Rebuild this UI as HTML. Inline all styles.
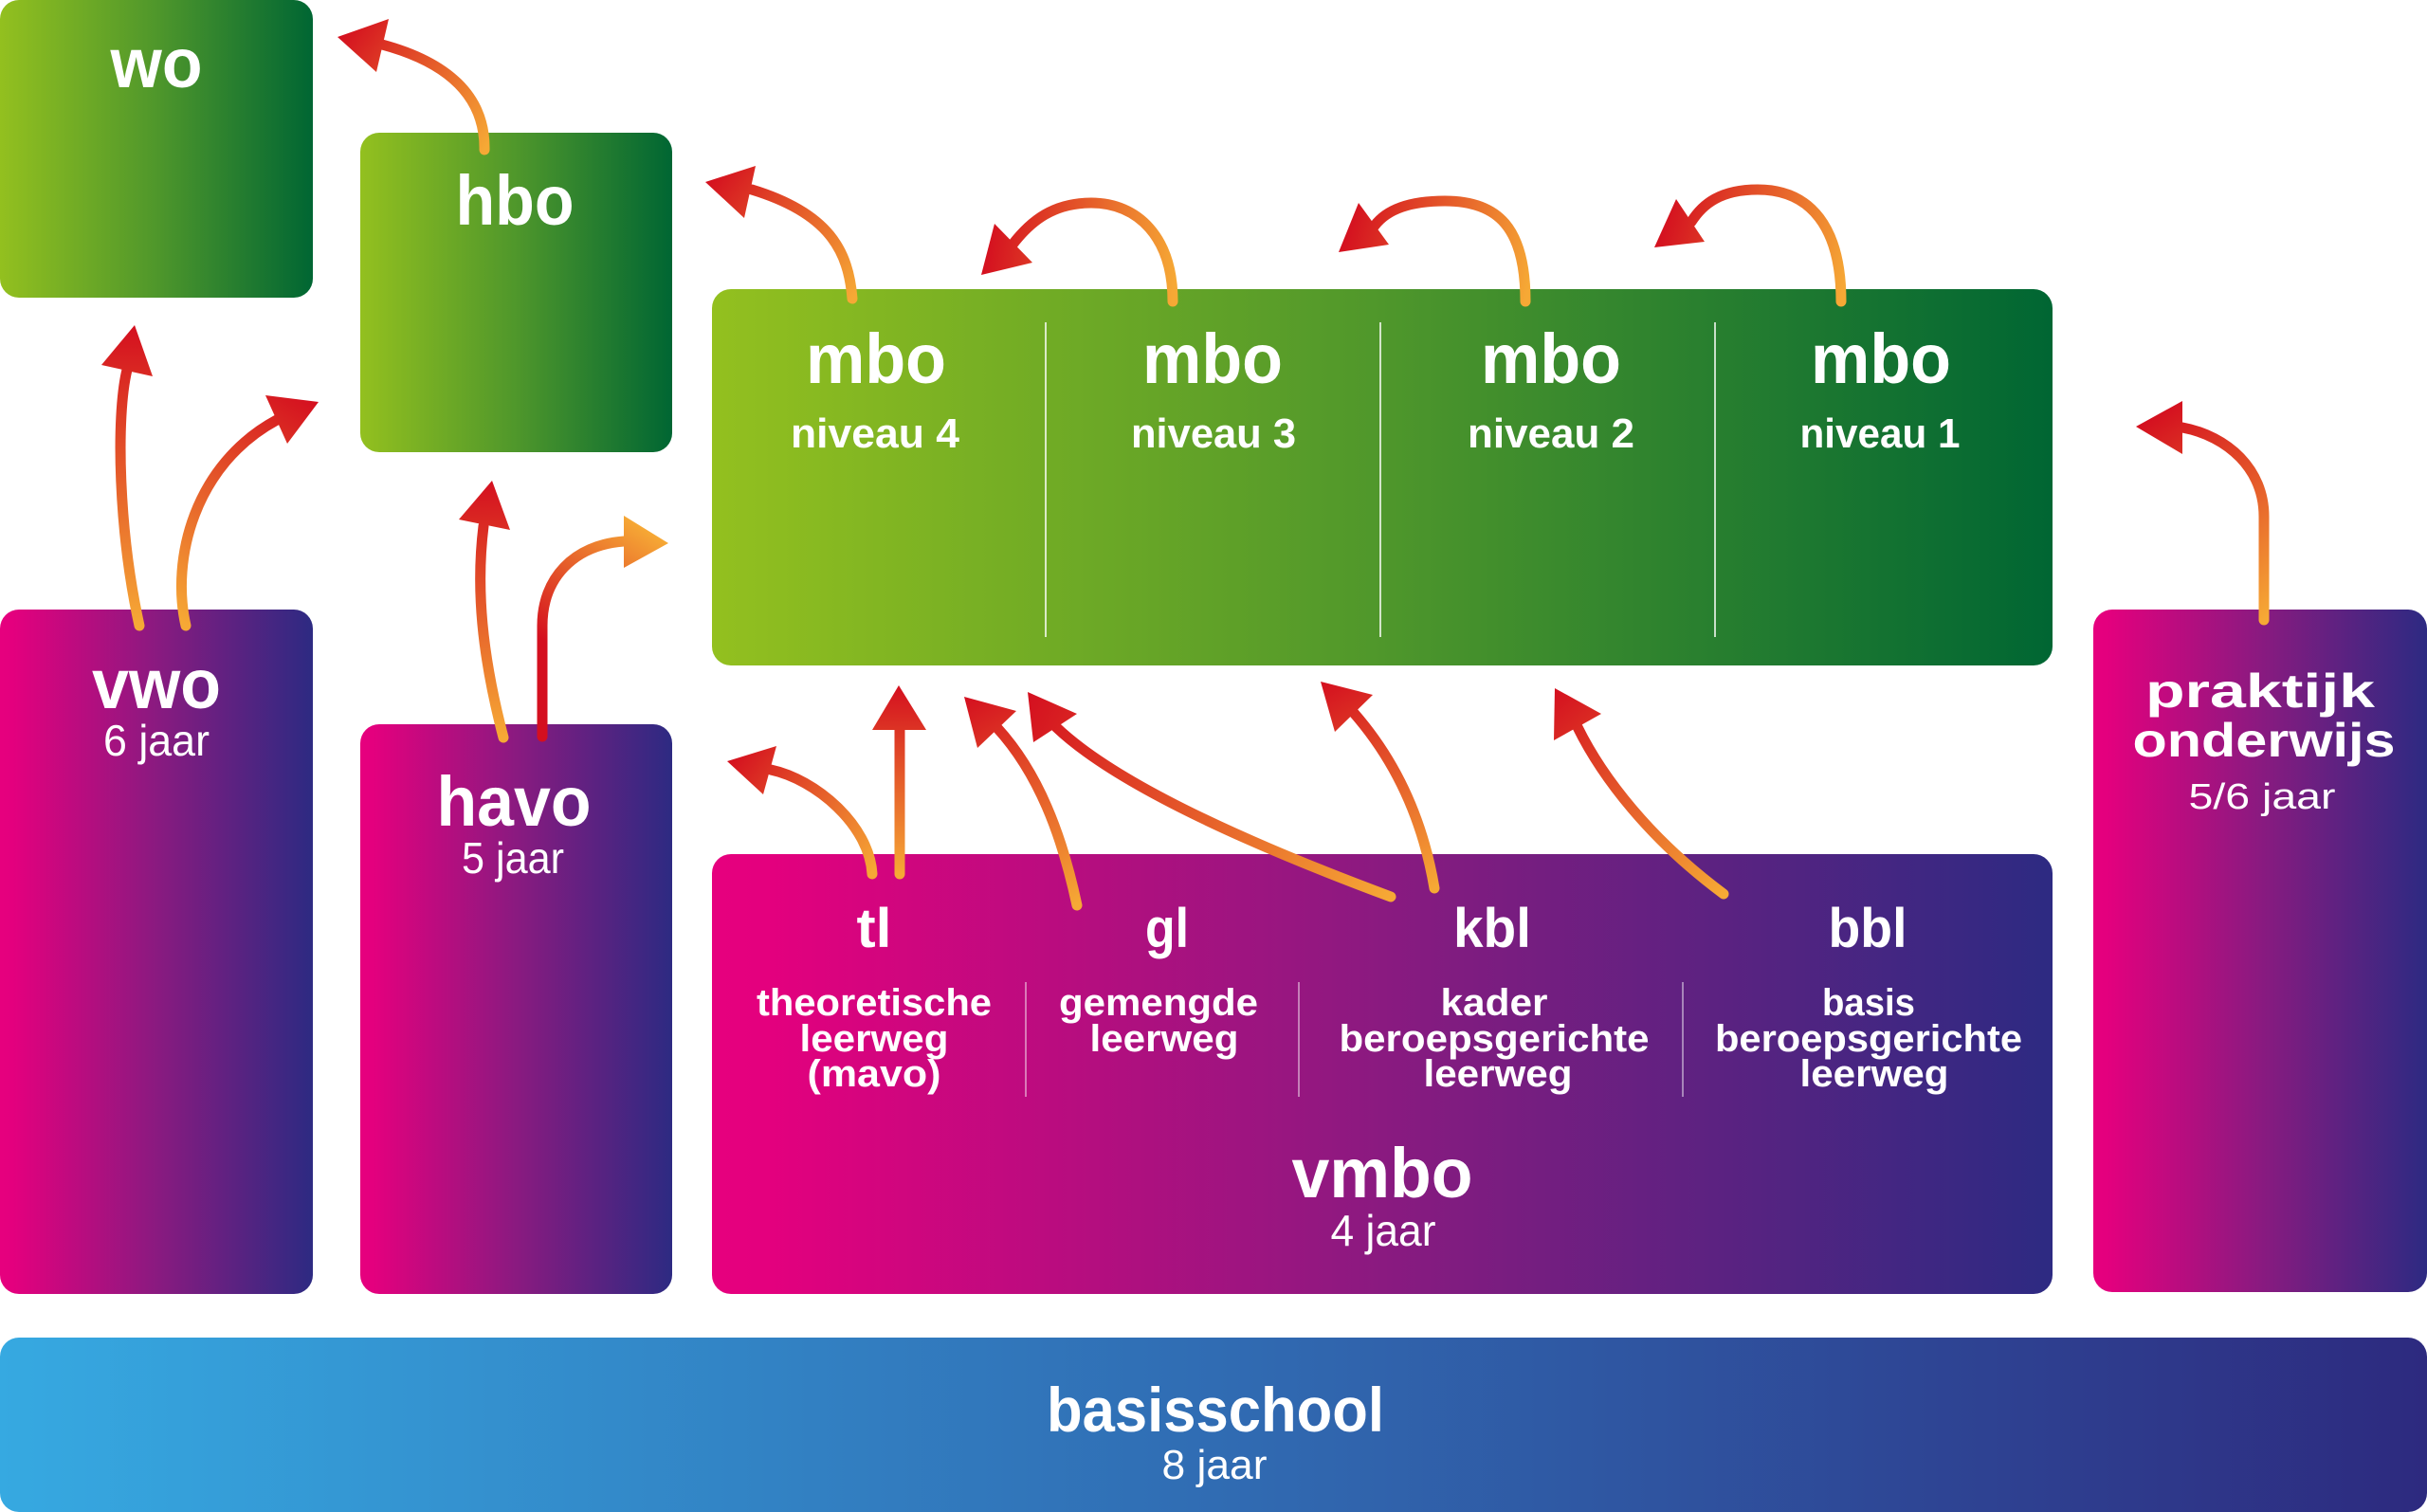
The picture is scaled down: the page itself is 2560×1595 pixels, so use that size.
<!DOCTYPE html>
<html>
<head>
<meta charset="utf-8">
<style>
html,body{margin:0;padding:0;background:#fff;}
svg{display:block;}
text{font-family:"Liberation Sans",Arial,sans-serif;fill:#fff;}
.t{font-weight:bold;font-size:74px;}
.n{font-weight:bold;font-size:44px;}
.s{font-weight:bold;font-size:58px;}
.l{font-weight:bold;font-size:40px;}
.j{font-weight:normal;font-size:46px;}
</style>
</head>
<body>
<svg width="2560" height="1595" viewBox="0 0 2560 1595" xmlns="http://www.w3.org/2000/svg">
<defs>
  <linearGradient id="gGreen" x1="0" y1="0" x2="1" y2="0">
    <stop offset="0" stop-color="#93c01f"/>
    <stop offset="0.5" stop-color="#4f972b"/>
    <stop offset="1" stop-color="#006633"/>
  </linearGradient>
  <linearGradient id="gPurple" x1="0" y1="0" x2="1" y2="0">
    <stop offset="0" stop-color="#e6007e"/>
    <stop offset="0.04" stop-color="#e4007e"/>
    <stop offset="0.5" stop-color="#8a1a80"/>
    <stop offset="1" stop-color="#2d2a82"/>
  </linearGradient>
  <linearGradient id="gBlue" x1="0" y1="0" x2="1" y2="0">
    <stop offset="0" stop-color="#36a9e1"/>
    <stop offset="0.5" stop-color="#306cb3"/>
    <stop offset="1" stop-color="#2d2a7f"/>
  </linearGradient>
  <linearGradient id="aA" gradientUnits="userSpaceOnUse" x1="147" y1="660" x2="142" y2="343"><stop offset="0" stop-color="#f6a935"/><stop offset="1" stop-color="#d40f1f"/></linearGradient>
  <linearGradient id="aB" gradientUnits="userSpaceOnUse" x1="196" y1="660" x2="336" y2="424"><stop offset="0" stop-color="#f6a935"/><stop offset="1" stop-color="#d40f1f"/></linearGradient>
  <linearGradient id="aC" gradientUnits="userSpaceOnUse" x1="531" y1="778" x2="519" y2="507"><stop offset="0" stop-color="#f6a935"/><stop offset="1" stop-color="#d40f1f"/></linearGradient>
  <linearGradient id="aD" gradientUnits="userSpaceOnUse" x1="572" y1="777" x2="705" y2="573"><stop offset="0" stop-color="#d40f1f"/><stop offset="0.35" stop-color="#d40f1f"/><stop offset="1" stop-color="#f6a935"/></linearGradient>
  <linearGradient id="aE" gradientUnits="userSpaceOnUse" x1="511" y1="158" x2="356" y2="39"><stop offset="0" stop-color="#f6a935"/><stop offset="1" stop-color="#d40f1f"/></linearGradient>
  <linearGradient id="aF" gradientUnits="userSpaceOnUse" x1="899" y1="315" x2="744" y2="192"><stop offset="0" stop-color="#f6a935"/><stop offset="1" stop-color="#d40f1f"/></linearGradient>
  <linearGradient id="aG" gradientUnits="userSpaceOnUse" x1="1237" y1="318" x2="1035" y2="290"><stop offset="0" stop-color="#f6a935"/><stop offset="1" stop-color="#d40f1f"/></linearGradient>
  <linearGradient id="aH" gradientUnits="userSpaceOnUse" x1="1609" y1="318" x2="1412" y2="266"><stop offset="0" stop-color="#f6a935"/><stop offset="1" stop-color="#d40f1f"/></linearGradient>
  <linearGradient id="aI" gradientUnits="userSpaceOnUse" x1="1942" y1="318" x2="1745" y2="261"><stop offset="0" stop-color="#f6a935"/><stop offset="1" stop-color="#d40f1f"/></linearGradient>
  <linearGradient id="aJ" gradientUnits="userSpaceOnUse" x1="920" y1="922" x2="767" y2="803"><stop offset="0" stop-color="#f6a935"/><stop offset="1" stop-color="#d40f1f"/></linearGradient>
  <linearGradient id="aK" gradientUnits="userSpaceOnUse" x1="949" y1="922" x2="948" y2="723"><stop offset="0" stop-color="#f6a935"/><stop offset="1" stop-color="#d40f1f"/></linearGradient>
  <linearGradient id="aL" gradientUnits="userSpaceOnUse" x1="1136" y1="955" x2="1017" y2="735"><stop offset="0" stop-color="#f6a935"/><stop offset="1" stop-color="#d40f1f"/></linearGradient>
  <linearGradient id="aM" gradientUnits="userSpaceOnUse" x1="1467" y1="946" x2="1084" y2="730"><stop offset="0" stop-color="#f6a935"/><stop offset="1" stop-color="#d40f1f"/></linearGradient>
  <linearGradient id="aN" gradientUnits="userSpaceOnUse" x1="1513" y1="937" x2="1393" y2="719"><stop offset="0" stop-color="#f6a935"/><stop offset="1" stop-color="#d40f1f"/></linearGradient>
  <linearGradient id="aO" gradientUnits="userSpaceOnUse" x1="1818" y1="943" x2="1640" y2="726"><stop offset="0" stop-color="#f6a935"/><stop offset="1" stop-color="#d40f1f"/></linearGradient>
  <linearGradient id="aP" gradientUnits="userSpaceOnUse" x1="2388" y1="654" x2="2253" y2="450"><stop offset="0" stop-color="#f6a935"/><stop offset="1" stop-color="#d40f1f"/></linearGradient>
</defs>

<!-- Boxes -->
<rect x="0" y="0" width="330" height="314" rx="20" fill="url(#gGreen)"/>
<rect x="380" y="140" width="329" height="337" rx="20" fill="url(#gGreen)"/>
<rect x="751" y="305" width="1414" height="397" rx="20" fill="url(#gGreen)"/>
<rect x="0" y="643" width="330" height="722" rx="20" fill="url(#gPurple)"/>
<rect x="380" y="764" width="329" height="601" rx="20" fill="url(#gPurple)"/>
<rect x="751" y="901" width="1414" height="464" rx="20" fill="url(#gPurple)"/>
<rect x="2208" y="643" width="352" height="720" rx="20" fill="url(#gPurple)"/>
<rect x="0" y="1411" width="2560" height="184" rx="20" fill="url(#gBlue)"/>

<!-- mbo dividers -->
<g stroke="#ffffff" stroke-opacity="0.75" stroke-width="2">
  <line x1="1103" y1="340" x2="1103" y2="672"/>
  <line x1="1456" y1="340" x2="1456" y2="672"/>
  <line x1="1809" y1="340" x2="1809" y2="672"/>
</g>
<!-- vmbo dividers -->
<g stroke="#ffffff" stroke-opacity="0.45" stroke-width="2">
  <line x1="1082" y1="1036" x2="1082" y2="1157"/>
  <line x1="1370" y1="1036" x2="1370" y2="1157"/>
  <line x1="1775" y1="1036" x2="1775" y2="1157"/>
</g>

<!-- Arrows -->
<g fill="none" stroke-width="11" stroke-linecap="round" stroke-linejoin="round">
  <path d="M147,660 C125,560 122,440 134,390" stroke="url(#aA)"/>
  <path d="M196,660 C180,590 205,490 292,443" stroke="url(#aB)"/>
  <path d="M531,778 C508,690 502,620 510,555" stroke="url(#aC)"/>
  <path d="M572,777 L572,660 C572,610 605,575 658,571" stroke="url(#aD)"/>
  <path d="M511,158 C512,100 470,65 403,47" stroke="url(#aE)"/>
  <path d="M899,315 C895,265 875,225 793,200" stroke="url(#aF)"/>
  <path d="M1237,318 C1237,250 1200,214 1151,214 C1112,214 1088,232 1068,258" stroke="url(#aG)"/>
  <path d="M1609,318 C1609,240 1580,212 1524,212 C1485,212 1462,222 1450,238" stroke="url(#aH)"/>
  <path d="M1942,318 C1942,240 1910,200 1854,200 C1815,200 1796,215 1784,234" stroke="url(#aI)"/>
  <path d="M920,922 C917,870 860,822 813,812" stroke="url(#aJ)"/>
  <path d="M949,922 L949,770" stroke="url(#aK)"/>
  <path d="M1136,955 C1120,880 1095,815 1052,768" stroke="url(#aL)"/>
  <path d="M1467,946 C1330,895 1180,830 1114,767" stroke="url(#aM)"/>
  <path d="M1513,937 C1500,860 1470,800 1428,752" stroke="url(#aN)"/>
  <path d="M1818,943 C1740,885 1690,820 1664,767" stroke="url(#aO)"/>
  <path d="M2388,654 L2388,545 C2388,495 2350,460 2302,451" stroke="url(#aP)"/>
</g>
<g>
  <polygon points="142,343 107,385 161,397" fill="url(#aA)"/>
  <polygon points="336,424 280,417 303,468" fill="url(#aB)"/>
  <polygon points="519,507 484,548 538,559" fill="url(#aC)"/>
  <polygon points="705,573 658,544 658,599" fill="url(#aD)"/>
  <polygon points="356,39 410,20 397,76" fill="url(#aE)"/>
  <polygon points="744,192 797,175 785,230" fill="url(#aF)"/>
  <polygon points="1035,290 1049,236 1089,277" fill="url(#aG)"/>
  <polygon points="1412,266 1433,214 1465,258" fill="url(#aH)"/>
  <polygon points="1745,261 1768,210 1798,255" fill="url(#aI)"/>
  <polygon points="767,803 819,787 805,838" fill="url(#aJ)"/>
  <polygon points="948,723 920,770 977,770" fill="url(#aK)"/>
  <polygon points="1017,735 1072,750 1031,789" fill="url(#aL)"/>
  <polygon points="1084,730 1136,753 1090,783" fill="url(#aM)"/>
  <polygon points="1393,719 1448,733 1408,772" fill="url(#aN)"/>
  <polygon points="1640,726 1689,753 1639,781" fill="url(#aO)"/>
  <polygon points="2253,450 2302,423 2302,479" fill="url(#aP)"/>
</g>

<!-- Text -->
<g text-anchor="middle">
  <text class="t" x="165" y="92" textLength="97" lengthAdjust="spacingAndGlyphs">wo</text>
  <text class="t" x="543" y="237" textLength="125" lengthAdjust="spacingAndGlyphs">hbo</text>

  <text class="t" x="924" y="404" textLength="148" lengthAdjust="spacingAndGlyphs">mbo</text>
  <text class="t" x="1279" y="404" textLength="148" lengthAdjust="spacingAndGlyphs">mbo</text>
  <text class="t" x="1636" y="404" textLength="148" lengthAdjust="spacingAndGlyphs">mbo</text>
  <text class="t" x="1984" y="404" textLength="148" lengthAdjust="spacingAndGlyphs">mbo</text>
  <text class="n" x="923" y="472" textLength="178" lengthAdjust="spacingAndGlyphs">niveau 4</text>
  <text class="n" x="1280" y="472" textLength="174" lengthAdjust="spacingAndGlyphs">niveau 3</text>
  <text class="n" x="1636" y="472" textLength="176" lengthAdjust="spacingAndGlyphs">niveau 2</text>
  <text class="n" x="1983" y="472" textLength="169" lengthAdjust="spacingAndGlyphs">niveau 1</text>

  <text class="t" x="165" y="747" textLength="136" lengthAdjust="spacingAndGlyphs">vwo</text>
  <text class="j" x="165" y="797" textLength="112" lengthAdjust="spacingAndGlyphs">6 jaar</text>

  <text class="t" x="542" y="871" textLength="163" lengthAdjust="spacingAndGlyphs">havo</text>
  <text class="j" x="541" y="921" textLength="108" lengthAdjust="spacingAndGlyphs">5 jaar</text>

  <text class="s" x="922" y="999" textLength="37" lengthAdjust="spacingAndGlyphs">tl</text>
  <text class="s" x="1231" y="999" textLength="46" lengthAdjust="spacingAndGlyphs">gl</text>
  <text class="s" x="1574" y="999" textLength="82" lengthAdjust="spacingAndGlyphs">kbl</text>
  <text class="s" x="1970" y="999" textLength="83" lengthAdjust="spacingAndGlyphs">bbl</text>

  <text class="l" x="922" y="1071" textLength="248" lengthAdjust="spacingAndGlyphs">theoretische</text>
  <text class="l" x="922" y="1109" textLength="157" lengthAdjust="spacingAndGlyphs">leerweg</text>
  <text class="l" x="922" y="1146" textLength="141" lengthAdjust="spacingAndGlyphs">(mavo)</text>

  <text class="l" x="1222" y="1071" textLength="210" lengthAdjust="spacingAndGlyphs">gemengde</text>
  <text class="l" x="1228" y="1109" textLength="157" lengthAdjust="spacingAndGlyphs">leerweg</text>

  <text class="l" x="1576" y="1071" textLength="113" lengthAdjust="spacingAndGlyphs">kader</text>
  <text class="l" x="1576" y="1109" textLength="327" lengthAdjust="spacingAndGlyphs">beroepsgerichte</text>
  <text class="l" x="1580" y="1146" textLength="157" lengthAdjust="spacingAndGlyphs">leerweg</text>

  <text class="l" x="1971" y="1071" textLength="98" lengthAdjust="spacingAndGlyphs">basis</text>
  <text class="l" x="1971" y="1109" textLength="324" lengthAdjust="spacingAndGlyphs">beroepsgerichte</text>
  <text class="l" x="1977" y="1146" textLength="157" lengthAdjust="spacingAndGlyphs">leerweg</text>

  <text class="t" x="1458" y="1263" textLength="191" lengthAdjust="spacingAndGlyphs">vmbo</text>
  <text class="j" x="1459" y="1314" textLength="111" lengthAdjust="spacingAndGlyphs">4 jaar</text>

  <text class="t" style="font-size:50px" x="2384" y="746" textLength="242" lengthAdjust="spacingAndGlyphs">praktijk</text>
  <text class="t" style="font-size:50px" x="2388" y="798" textLength="277" lengthAdjust="spacingAndGlyphs">onderwijs</text>
  <text class="j" style="font-size:38px" x="2386" y="853" textLength="155" lengthAdjust="spacingAndGlyphs">5/6 jaar</text>

  <text class="t" style="font-size:66px" x="1282" y="1510" textLength="356" lengthAdjust="spacingAndGlyphs">basisschool</text>
  <text class="j" style="font-size:44px" x="1281" y="1560" textLength="111" lengthAdjust="spacingAndGlyphs">8 jaar</text>
</g>
</svg>
</body>
</html>
